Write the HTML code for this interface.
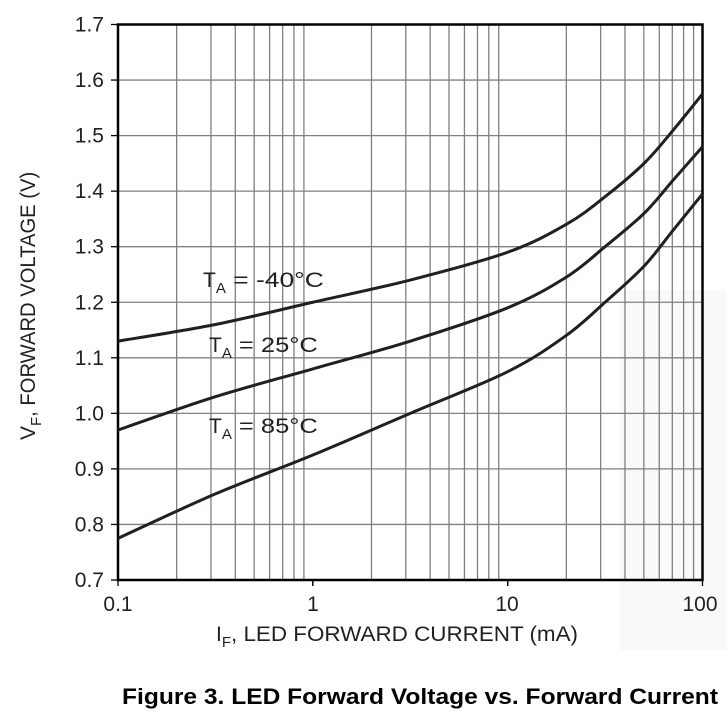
<!DOCTYPE html>
<html><head><style>
html,body{margin:0;padding:0;background:#fff;}
svg{display:block;font-family:"Liberation Sans",Arial,sans-serif;}
</style></head><body>
<svg id="s" width="727" height="715" viewBox="0 0 727 715" xmlns="http://www.w3.org/2000/svg">
<rect x="620" y="290" width="107" height="360" fill="#f9f8fa"/>
<g id="grid" stroke="#808080" stroke-width="1.3"></g>
<g id="ticks" stroke="#000" stroke-width="1.3"></g>
<rect x="118" y="24.5" width="584.5" height="555.5" fill="none" stroke="#000" stroke-width="2.5"/>
<g id="curves" fill="none" stroke="#231f20" stroke-width="3" stroke-linejoin="round"></g>
<g font-size="21" fill="#231f20" text-anchor="end" id="ylab"></g>
<g font-size="21" fill="#231f20" text-anchor="middle">
<text x="118" y="611">0.1</text><text x="313" y="611">1</text><text x="507" y="611">10</text><text x="700" y="611">100</text>
</g>
<g font-size="21" fill="#231f20">
<text x="203" y="287">T<tspan font-size="15" dy="6">A</tspan><tspan dy="-6" textLength="98" lengthAdjust="spacingAndGlyphs"> = -40°C</tspan></text>
<text x="209" y="352">T<tspan font-size="15" dy="6">A</tspan><tspan dy="-6" textLength="86" lengthAdjust="spacingAndGlyphs"> = 25°C</tspan></text>
<text x="209" y="433">T<tspan font-size="15" dy="6">A</tspan><tspan dy="-6" textLength="86" lengthAdjust="spacingAndGlyphs"> = 85°C</tspan></text>
<text x="216" y="641">I<tspan font-size="15" dy="6">F</tspan><tspan dy="-6" textLength="347" lengthAdjust="spacingAndGlyphs">, LED FORWARD CURRENT (mA)</tspan></text>
<text transform="translate(35,440) rotate(-90)">V<tspan font-size="15" dy="6">F</tspan><tspan dy="-6" textLength="245" lengthAdjust="spacingAndGlyphs">, FORWARD VOLTAGE (V)</tspan></text>
</g>
<text x="122" y="704" font-size="22" font-weight="bold" fill="#000" textLength="596" lengthAdjust="spacingAndGlyphs">Figure 3. LED Forward Voltage vs. Forward Current</text>
</svg>
<script>
var NS="http://www.w3.org/2000/svg";
function X(l){return 118+(l+1)*194.83;}
function Y(v){return 24.5+(1.7-v)*555.5;}
function el(p,n,a){var e=document.createElementNS(NS,n);for(var k in a)e.setAttribute(k,a[k]);p.appendChild(e);return e;}
var g=document.getElementById('grid'),t=document.getElementById('ticks'),yl=document.getElementById('ylab');
for(var d=-1;d<2;d++)for(var m=1;m<=10;m++){var l=d+Math.log10(m);var x=X(l);
 if(m>1&&m<10)el(g,'line',{x1:x,x2:x,y1:24.5,y2:580});
 if(m==1||m==10)el(t,'line',{x1:x,x2:x,y1:580,y2:586});}
for(var i=0;i<=10;i++){var v=0.7+i*0.1,y=Y(v);
 if(i>0&&i<10)el(g,'line',{x1:118,x2:702.5,y1:y,y2:y});
 el(t,'line',{x1:111,x2:118,y1:y,y2:y});
 var tx=el(yl,'text',{x:104,y:y+7});tx.textContent=v.toFixed(1);}
var xs=[-1,-0.5,0,0.5,1,1.3,1.5,1.7,1.85,2];
var D=[[1.13,1.16,1.20,1.24,1.29,1.34,1.39,1.45,1.51,1.575],
[0.97,1.03,1.08,1.13,1.19,1.245,1.30,1.36,1.42,1.48],
[0.775,0.855,0.925,1.0,1.075,1.14,1.20,1.265,1.33,1.395]];
var c=document.getElementById('curves');
D.forEach(function(ys){var P=xs.map(function(x,i){return[X(x),Y(ys[i])];});
 var s="M"+P[0];for(var i=0;i<P.length-1;i++){var p0=P[i-1]||P[i],p1=P[i],p2=P[i+1],p3=P[i+2]||P[i+1];
 var c1=[p1[0]+(p2[0]-p0[0])/6,p1[1]+(p2[1]-p0[1])/6],c2=[p2[0]-(p3[0]-p1[0])/6,p2[1]-(p3[1]-p1[1])/6];
 s+=" C"+c1+" "+c2+" "+p2;}
 el(c,'path',{d:s});});
</script>
</body></html>
